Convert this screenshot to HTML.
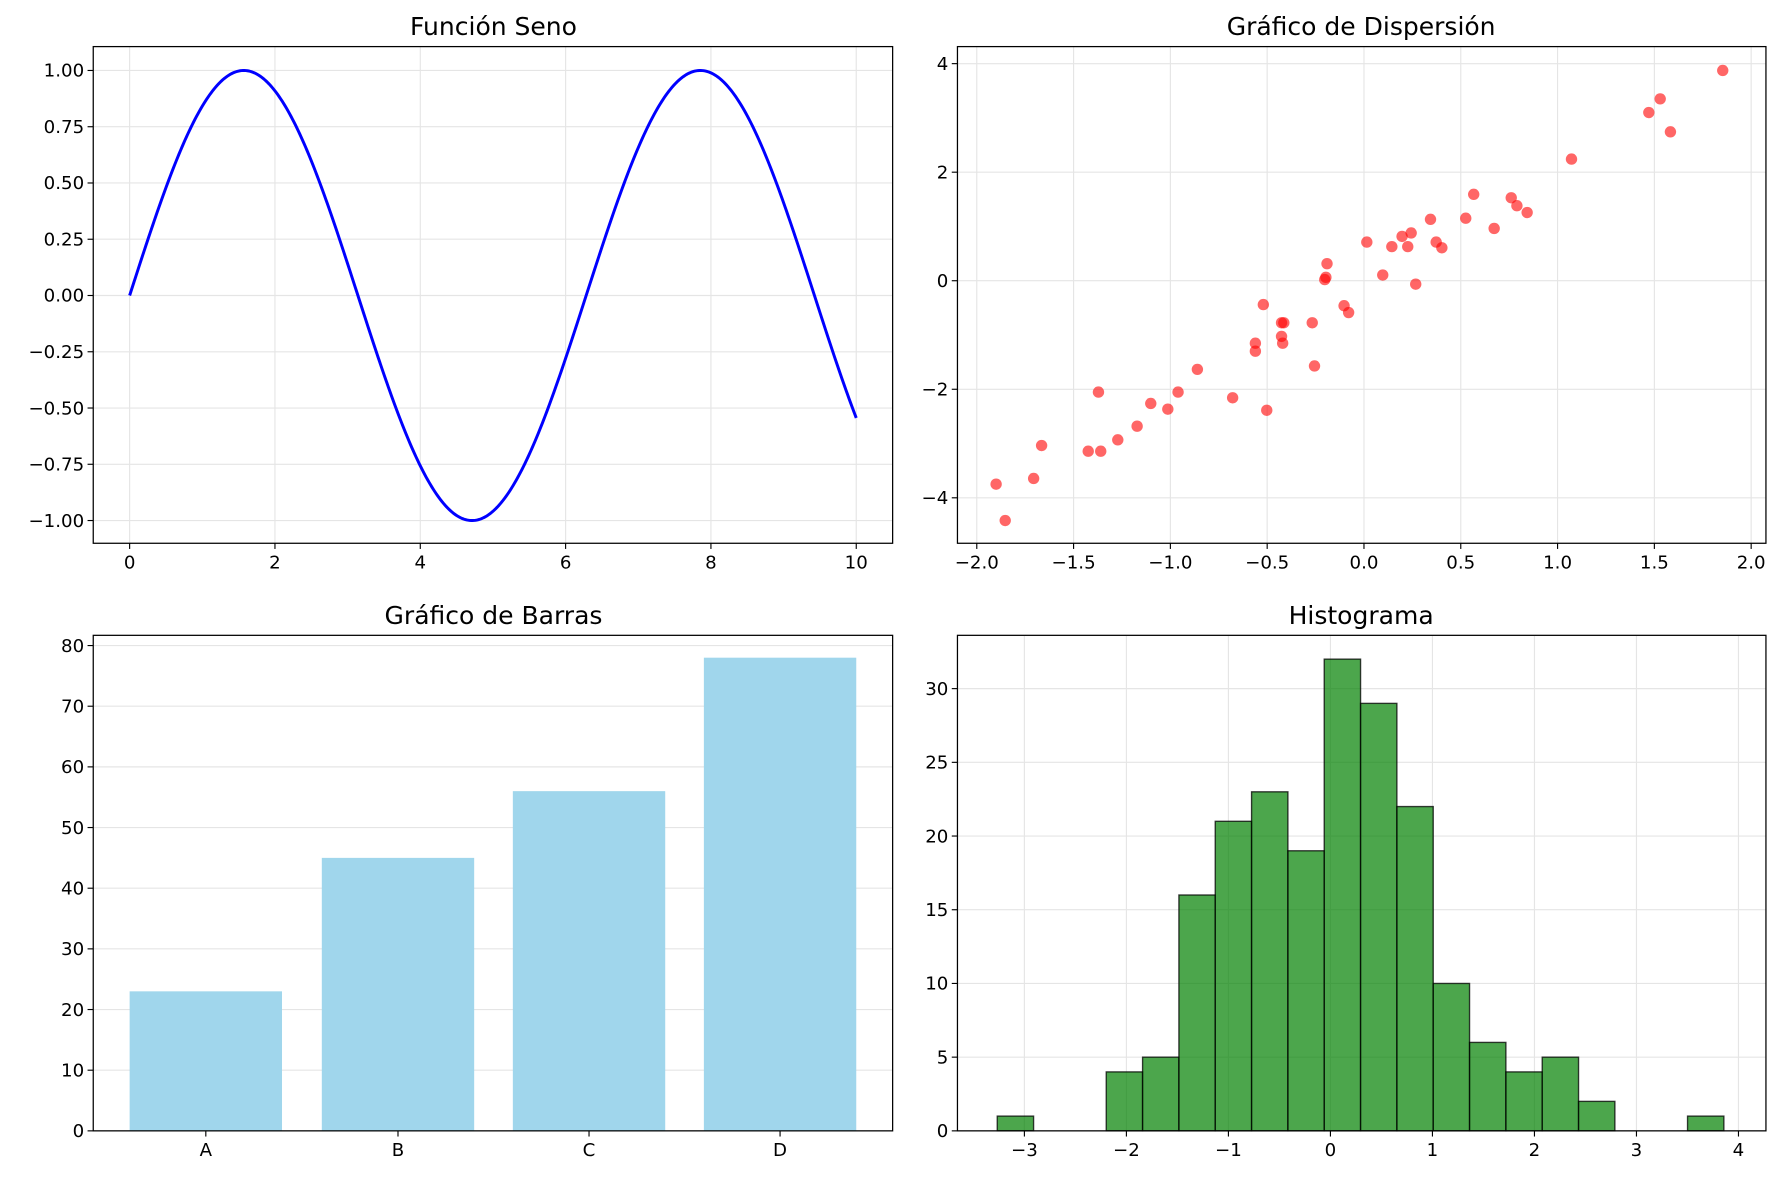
<!DOCTYPE html>
<html><head><meta charset="utf-8"><style>
html,body{margin:0;padding:0;background:#fff;}
svg{display:block;}
text{font-family:"DejaVu Sans","Liberation Sans",sans-serif;fill:#000;}
.t{font-size:16px;}
.ti{font-size:22px;}
.g{stroke:#e5e5e5;stroke-width:1;}
.ax{fill:none;stroke:#000;stroke-width:1.1;}
.tk{stroke:#000;stroke-width:1;}
</style></head><body>
<svg id="s" width="1783" height="1182" viewBox="0 0 1568 1040" preserveAspectRatio="none" xmlns="http://www.w3.org/2000/svg">
<rect width="1568" height="1040" fill="#fff"/>
<g id="root"></g>
<text class="ti" x="434" y="31" text-anchor="middle">Función Seno</text>
<text class="ti" x="1197" y="31" text-anchor="middle">Gráfico de Dispersión</text>
<text class="ti" x="434" y="549" text-anchor="middle">Gráfico de Barras</text>
<text class="ti" x="1197" y="549" text-anchor="middle">Histograma</text>
</svg>
<script>
var NS="http://www.w3.org/2000/svg",root=document.getElementById("root");
function el(n,a,txt){var e=document.createElementNS(NS,n);for(var k in a)e.setAttribute(k,a[k]);if(txt!==undefined)e.textContent=txt;root.appendChild(e);return e;}
function line(x1,y1,x2,y2,c){return el("line",{x1:x1,y1:y1,x2:x2,y2:y2,"class":c});}
function ylab(L,y,lab){line(L-5,y,L,y,"tk");el("text",{"class":"t",x:L-8,y:y+5.5,"text-anchor":"end"},lab);}
function xlab(B,x,lab){line(x,B,x,B+5,"tk");el("text",{"class":"t",x:x,y:B+22,"text-anchor":"middle"},lab);}
var m="\u2212";
// Sine
var L=82,R=785,T=41,B=478;
var sx=function(v){return 114+v*63.9;},sy=function(v){return 260-v*198;};
[0,2,4,6,8,10].forEach(function(v){line(sx(v),T,sx(v),B,"g");xlab(B,sx(v),""+v);});
[1,.75,.5,.25,0,-.25,-.5,-.75,-1].forEach(function(v){line(L,sy(v),R,sy(v),"g");ylab(L,sy(v),(v<0?m:"")+Math.abs(v).toFixed(2));});
var d="";for(var i=0;i<=500;i++){var x=i*10/500;d+=(i?"L":"M")+sx(x).toFixed(2)+","+sy(Math.sin(x)).toFixed(2);}
el("path",{d:d,fill:"none",stroke:"#0000ff","stroke-width":2.6});
el("rect",{x:L,y:T,width:R-L,height:B-T,"class":"ax"});
// Scatter
L=842;R=1553;
var cx=function(v){return 1199.5+v*170.25;},cy=function(v){return 247-v*47.75;};
[-2,-1.5,-1,-.5,0,.5,1,1.5,2].forEach(function(v){line(cx(v),T,cx(v),B,"g");xlab(B,cx(v),(v<0?m:"")+Math.abs(v).toFixed(1));});
[4,2,0,-2,-4].forEach(function(v){line(L,cy(v),R,cy(v),"g");ylab(L,cy(v),(v<0?m:"")+Math.abs(v));});
[[876,426],[884,458],[909,421],[916,392],[957,397],[966,345],[968,397],[983,387],[1000,375],[1012,355],[1027,360],[1036,345],[1053,325],[1084,350],[1104,302],[1104,309],[1111,268],[1114,361],[1127,284],[1127,296],[1128,302],[1129,284],[1154,284],[1156,322],[1165,246],[1166,244],[1167,232],[1182,269],[1186,275],[1202,213],[1216,242],[1224,217],[1233,208],[1238,217],[1241,205],[1245,250],[1258,193],[1263,213],[1268,218],[1289,192],[1296,171],[1314,201],[1329,174],[1334,181],[1343,187],[1382,140],[1450,99],[1460,87],[1469,116],[1515,62]].forEach(function(p){el("circle",{cx:p[0],cy:p[1],r:5,fill:"rgba(255,0,0,0.6)"});});
el("rect",{x:L,y:T,width:R-L,height:B-T,"class":"ax"});
// Bars
L=82;R=785;T=559;B=995;
var by=function(v){return 995-v*5.3375;};
[0,10,20,30,40,50,60,70,80].forEach(function(v){line(L,by(v),R,by(v),"g");ylab(L,by(v),""+v);});
[["A",114,23],["B",283,45],["C",451,56],["D",619,78]].forEach(function(b){el("rect",{x:b[1],y:by(b[2]),width:134,height:995-by(b[2]),fill:"#a0d6ec"});xlab(B,b[1]+67,b[0]);});
el("rect",{x:L,y:T,width:R-L,height:B-T,"class":"ax"});
// Histogram
L=842;R=1553;
var hx=function(v){return 1170+v*89.71;},hy=function(v){return 995-v*12.97;};
[-3,-2,-1,0,1,2,3,4].forEach(function(v){line(hx(v),T,hx(v),B,"g");});
[0,5,10,15,20,25,30].forEach(function(v){line(L,hy(v),R,hy(v),"g");ylab(L,hy(v),""+v);});
var c=[1,0,0,4,5,16,21,23,19,32,29,22,10,6,4,5,2,0,0,1],w=31.95;
c.forEach(function(n,i){if(n)el("rect",{x:877+i*w,y:hy(n),width:w,height:995-hy(n),fill:"rgba(0,128,0,0.7)",stroke:"rgba(0,0,0,0.75)","stroke-width":1.2});});
[-3,-2,-1,0,1,2,3,4].forEach(function(v){xlab(B,hx(v),(v<0?m:"")+Math.abs(v));});
el("rect",{x:L,y:T,width:R-L,height:B-T,"class":"ax"});
</script>
</body></html>
